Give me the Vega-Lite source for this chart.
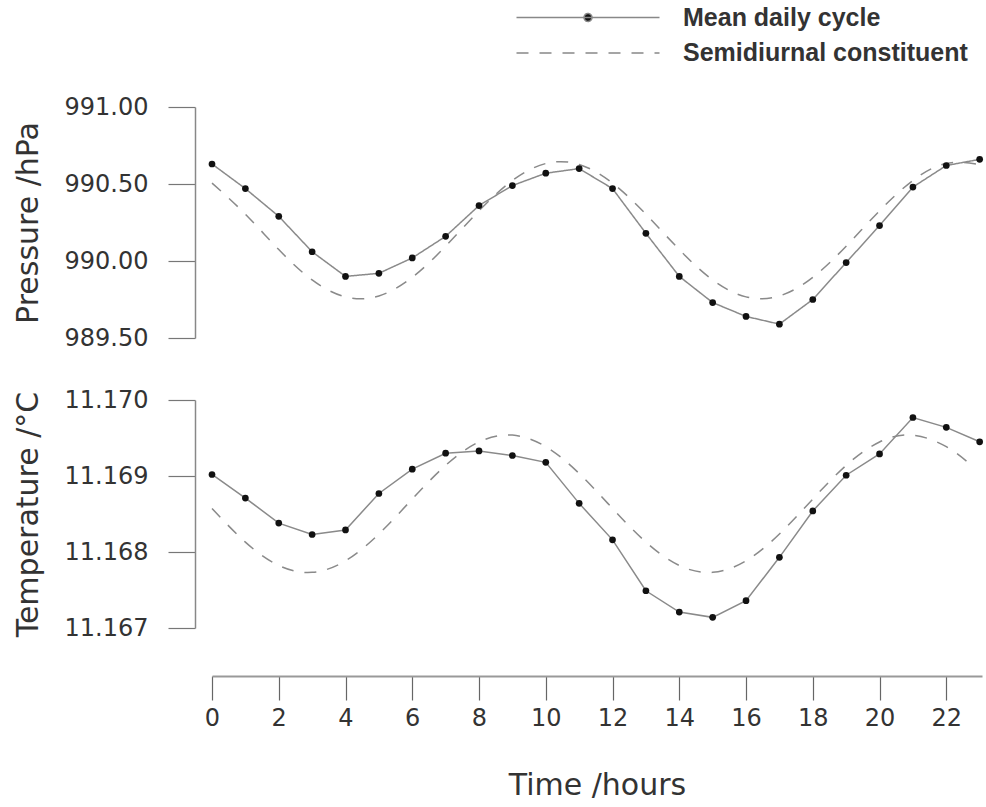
{
  "$schema": "https://vega.github.io/schema/vega-lite/v6.json",
  "background": "white",
  "autosize": {"type": "pad"},
  "padding": {"left": 13, "top": 5, "right": 2, "bottom": 2},
  "config": {"view": {"stroke": null}, "font": "DejaVu Sans"},
  "bounds": "flush",
  "spacing": 62,
  "datasets": {
    "pm": [
      {"h": 0, "v": 990.63, "s": "Mean daily cycle"}, {"h": 1, "v": 990.47, "s": "Mean daily cycle"},
      {"h": 2, "v": 990.29, "s": "Mean daily cycle"}, {"h": 3, "v": 990.06, "s": "Mean daily cycle"},
      {"h": 4, "v": 989.90, "s": "Mean daily cycle"}, {"h": 5, "v": 989.92, "s": "Mean daily cycle"},
      {"h": 6, "v": 990.02, "s": "Mean daily cycle"}, {"h": 7, "v": 990.16, "s": "Mean daily cycle"},
      {"h": 8, "v": 990.36, "s": "Mean daily cycle"}, {"h": 9, "v": 990.49, "s": "Mean daily cycle"},
      {"h": 10, "v": 990.57, "s": "Mean daily cycle"}, {"h": 11, "v": 990.60, "s": "Mean daily cycle"},
      {"h": 12, "v": 990.47, "s": "Mean daily cycle"}, {"h": 13, "v": 990.18, "s": "Mean daily cycle"},
      {"h": 14, "v": 989.90, "s": "Mean daily cycle"}, {"h": 15, "v": 989.73, "s": "Mean daily cycle"},
      {"h": 16, "v": 989.64, "s": "Mean daily cycle"}, {"h": 17, "v": 989.59, "s": "Mean daily cycle"},
      {"h": 18, "v": 989.75, "s": "Mean daily cycle"}, {"h": 19, "v": 989.99, "s": "Mean daily cycle"},
      {"h": 20, "v": 990.23, "s": "Mean daily cycle"}, {"h": 21, "v": 990.48, "s": "Mean daily cycle"},
      {"h": 22, "v": 990.62, "s": "Mean daily cycle"}, {"h": 23, "v": 990.66, "s": "Mean daily cycle"}
    ],
    "ps": [
      {"h": 0, "v": 990.506, "s": "Semidiurnal constituent"}, {"h": 1, "v": 990.304, "s": "Semidiurnal constituent"},
      {"h": 2, "v": 990.074, "s": "Semidiurnal constituent"}, {"h": 3, "v": 989.877, "s": "Semidiurnal constituent"},
      {"h": 4, "v": 989.767, "s": "Semidiurnal constituent"}, {"h": 5, "v": 989.773, "s": "Semidiurnal constituent"},
      {"h": 6, "v": 989.894, "s": "Semidiurnal constituent"}, {"h": 7, "v": 990.096, "s": "Semidiurnal constituent"},
      {"h": 8, "v": 990.326, "s": "Semidiurnal constituent"}, {"h": 9, "v": 990.523, "s": "Semidiurnal constituent"},
      {"h": 10, "v": 990.633, "s": "Semidiurnal constituent"}, {"h": 11, "v": 990.627, "s": "Semidiurnal constituent"},
      {"h": 12, "v": 990.506, "s": "Semidiurnal constituent"}, {"h": 13, "v": 990.304, "s": "Semidiurnal constituent"},
      {"h": 14, "v": 990.074, "s": "Semidiurnal constituent"}, {"h": 15, "v": 989.877, "s": "Semidiurnal constituent"},
      {"h": 16, "v": 989.767, "s": "Semidiurnal constituent"}, {"h": 17, "v": 989.773, "s": "Semidiurnal constituent"},
      {"h": 18, "v": 989.894, "s": "Semidiurnal constituent"}, {"h": 19, "v": 990.096, "s": "Semidiurnal constituent"},
      {"h": 20, "v": 990.326, "s": "Semidiurnal constituent"}, {"h": 21, "v": 990.523, "s": "Semidiurnal constituent"},
      {"h": 22, "v": 990.633, "s": "Semidiurnal constituent"}, {"h": 23, "v": 990.627, "s": "Semidiurnal constituent"}
    ],
    "tm": [
      {"h": 0, "v": 11.16902}, {"h": 1, "v": 11.16871}, {"h": 2, "v": 11.16838}, {"h": 3, "v": 11.16823},
      {"h": 4, "v": 11.16829}, {"h": 5, "v": 11.16877}, {"h": 6, "v": 11.16909}, {"h": 7, "v": 11.16930},
      {"h": 8, "v": 11.16933}, {"h": 9, "v": 11.16927}, {"h": 10, "v": 11.16918}, {"h": 11, "v": 11.16864},
      {"h": 12, "v": 11.16816}, {"h": 13, "v": 11.16749}, {"h": 14, "v": 11.16721}, {"h": 15, "v": 11.16714},
      {"h": 16, "v": 11.16736}, {"h": 17, "v": 11.16793}, {"h": 18, "v": 11.16854}, {"h": 19, "v": 11.16901},
      {"h": 20, "v": 11.16929}, {"h": 21, "v": 11.16977}, {"h": 22, "v": 11.16964}, {"h": 23, "v": 11.16945}
    ],
    "ts": [
      {"h": 0, "v": 11.168573}, {"h": 1, "v": 11.16813}, {"h": 2, "v": 11.167822}, {"h": 3, "v": 11.167732},
      {"h": 4, "v": 11.167884}, {"h": 5, "v": 11.168237}, {"h": 6, "v": 11.168697}, {"h": 7, "v": 11.16914},
      {"h": 8, "v": 11.169448}, {"h": 9, "v": 11.169538}, {"h": 10, "v": 11.169386}, {"h": 11, "v": 11.169033},
      {"h": 12, "v": 11.168573}, {"h": 13, "v": 11.16813}, {"h": 14, "v": 11.167822}, {"h": 15, "v": 11.167732},
      {"h": 16, "v": 11.167884}, {"h": 17, "v": 11.168237}, {"h": 18, "v": 11.168697}, {"h": 19, "v": 11.16914},
      {"h": 20, "v": 11.169448}, {"h": 21, "v": 11.169538}, {"h": 22, "v": 11.169386}, {"h": 22.7, "v": 11.16916}
    ]
  },
  "vconcat": [
    {
      "width": 770,
      "height": 231,
      "layer": [
        {
          "data": {"name": "ps"},
          "mark": {"type": "line", "color": "#8a8a8a", "strokeWidth": 1.5, "interpolate": "natural"},
          "encoding": {
            "x": {"field": "h", "type": "quantitative", "scale": {"domain": [0, 23.07], "nice": false, "zero": false}, "axis": null},
            "y": {
              "field": "v", "type": "quantitative",
              "scale": {"domain": [989.5, 991], "nice": false, "zero": false},
              "axis": {
                "values": [989.5, 989.75, 990, 990.25, 990.5, 990.75, 991],
                "offset": 17, "tickSize": 27, "labelPadding": 20,
                "labelExpr": "round(datum.value*4)%2===0 ? format(datum.value,'.2f') : ''",
                "labelFontSize": 24, "labelColor": "#333", "labelOverlap": false, "labelFlush": false,
                "title": "Pressure /hPa", "titleFontSize": 30, "titleFontWeight": "normal", "titleColor": "#333", "titlePadding": 21,
                "domainColor": "#888", "domainWidth": 1.5, "tickColor": "#777", "tickWidth": 1.2, "grid": false,
                "encode": {"ticks": {"update": {"x2": {"signal": "round(datum.value*4)%2===0 ? -27 : -11"}}}}
              }
            },
            "strokeDash": {
              "field": "s", "type": "nominal",
              "scale": {"domain": ["Semidiurnal constituent"], "range": [[12, 11]]},
              "legend": {
                "orient": "none", "legendX": 363.5, "legendY": -66.5, "title": null,
                "symbolType": "M-7.15,0H7.15", "symbolSize": 400, "symbolStrokeColor": "#888", "symbolStrokeWidth": 1.5,
                "symbolDash": [10, 20], "labelLimit": 500,
                "labelFont": "Liberation Sans", "labelFontSize": 25, "labelFontWeight": "bold", "labelColor": "#333", "labelOffset": 82.5,
                "encode": {"symbols": {"update": {"strokeDash": {"value": [10, 20]}, "stroke": {"value": "#888"}}}}
              }
            }
          }
        },
        {
          "data": {"name": "pm"},
          "mark": {"type": "line", "color": "#8a8a8a", "strokeWidth": 1.5},
          "encoding": {
            "x": {"field": "h", "type": "quantitative"},
            "y": {"field": "v", "type": "quantitative"},
            "strokeDash": {
              "field": "s", "type": "nominal",
              "scale": {"domain": ["Mean daily cycle"], "range": [[1, 0]]},
              "legend": {
                "orient": "none", "legendX": 363.5, "legendY": -102, "title": null,
                "symbolType": "M-7.15,0H7.15M0.4,0A0.4,0.4,0,1,1,-0.4,0A0.4,0.4,0,1,1,0.4,0Z", "symbolSize": 400,
                "symbolStrokeColor": "#888", "symbolStrokeWidth": 1.5, "symbolFillColor": "#111", "labelLimit": 500,
                "labelFont": "Liberation Sans", "labelFontSize": 25, "labelFontWeight": "bold", "labelColor": "#333", "labelOffset": 82.5,
                "encode": {"symbols": {"update": {"fill": {"value": "#111"}, "stroke": {"value": "#888"}, "opacity": {"value": 1}}}}
              }
            }
          }
        },
        {
          "data": {"name": "pm"},
          "mark": {"type": "point", "filled": true, "color": "#111", "size": 45, "opacity": 1},
          "encoding": {
            "x": {"field": "h", "type": "quantitative"},
            "y": {"field": "v", "type": "quantitative"}
          }
        }
      ],
      "resolve": {"scale": {"strokeDash": "independent"}}
    },
    {
      "width": 770,
      "height": 228,
      "layer": [
        {
          "data": {"name": "ts"},
          "mark": {"type": "line", "color": "#8a8a8a", "strokeWidth": 1.5, "strokeDash": [12, 11], "interpolate": "natural"},
          "encoding": {
            "x": {
              "field": "h", "type": "quantitative",
              "scale": {"domain": [0, 23.07], "nice": false, "zero": false},
              "axis": {
                "values": [0,1,2,3,4,5,6,7,8,9,10,11,12,13,14,15,16,17,18,19,20,21,22,23],
                "offset": 48, "tickSize": 24, "labelPadding": 6,
                "labelExpr": "datum.value % 2 === 0 ? datum.label : ''",
                "labelFontSize": 24, "labelColor": "#333", "labelOverlap": false, "labelFlush": false,
                "title": "Time /hours", "titleFontSize": 30, "titleFontWeight": "normal", "titleColor": "#333", "titlePadding": 40,
                "domainColor": "#999", "domainWidth": 2, "tickColor": "#666", "tickWidth": 1.2, "grid": false,
                "encode": {"ticks": {"update": {"y2": {"signal": "datum.value % 2 === 0 ? 24 : 12"}}}}
              }
            },
            "y": {
              "field": "v", "type": "quantitative",
              "scale": {"domain": [11.167, 11.17], "nice": false, "zero": false},
              "axis": {
                "values": [11.167, 11.1675, 11.168, 11.1685, 11.169, 11.1695, 11.17],
                "offset": 17, "tickSize": 27, "labelPadding": 20,
                "labelExpr": "round(datum.value*2000)%2===0 ? format(datum.value,'.3f') : ''",
                "labelFontSize": 24, "labelColor": "#333", "labelOverlap": false, "labelFlush": false,
                "title": "Temperature /°C", "titleFontSize": 30, "titleFontWeight": "normal", "titleColor": "#333", "titlePadding": 21,
                "domainColor": "#888", "domainWidth": 1.5, "tickColor": "#777", "tickWidth": 1.2, "grid": false,
                "encode": {"ticks": {"update": {"x2": {"signal": "round(datum.value*2000)%2===0 ? -27 : -11"}}}}
              }
            }
          }
        },
        {
          "data": {"name": "tm"},
          "mark": {"type": "line", "color": "#8a8a8a", "strokeWidth": 1.5},
          "encoding": {
            "x": {"field": "h", "type": "quantitative"},
            "y": {"field": "v", "type": "quantitative"}
          }
        },
        {
          "data": {"name": "tm"},
          "mark": {"type": "point", "filled": true, "color": "#111", "size": 45, "opacity": 1},
          "encoding": {
            "x": {"field": "h", "type": "quantitative"},
            "y": {"field": "v", "type": "quantitative"}
          }
        }
      ]
    }
  ]
}
